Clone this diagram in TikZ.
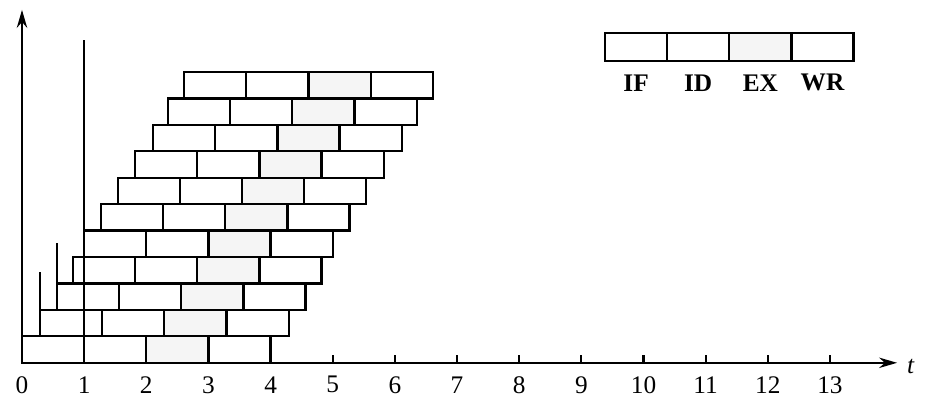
\documentclass[tikz,border=0pt]{standalone}
\usepackage{fontspec}
\setmainfont{Liberation Serif}
\usetikzlibrary{arrows.meta}

\begin{document}
\begin{tikzpicture}[x=1.554cm,y=0.661cm,line width=1.6pt,
  exfill/.style={fill=black!4},
  ticklab/.style={font=\fontsize{18}{20}\selectfont},
  leglab/.style={font=\fontsize{18}{20}\selectfont\bfseries}]
\useasboundingbox (-0.354,-2.155) rectangle (14.706,13.724);
% axes
\draw[-{Stealth[length=4.5mm,width=2.6mm]}] (0,0) -- (14.08,0);
\node[ticklab] (tlab) at (14.30,-0.15) {\textit{t}};
\draw[-{Stealth[length=4.5mm,width=2.6mm]}] (0,0) -- (0,13.35);
\foreach \n in {1,...,13}
  \draw (\n,0) -- (\n,0.3);
\foreach \n in {0,...,13}
  \node[ticklab] (tick\n) at (\n,-0.83) {\n};
\draw (1,0) -- (1,12.21);
\draw (0.29,1) -- (0.29,3.44);
\draw (0.563,2) -- (0.563,4.54);
% instructions
\foreach \s [count=\i from 0] in {0,0.29,0.563,0.82,1,1.27,1.54,1.82,2.11,2.35,2.61} {
  \fill[exfill] ({\s+2},\i) rectangle ++(1,1);
  \foreach \k in {0,...,3}
    \draw ({\s+\k},\i) rectangle ++(1,1);
}
% legend
\fill[exfill] (11.38,11.42) rectangle ++(1,1.06);
\foreach \n [count=\k from 0] in {IF,ID,EX,WR} {
  \draw ({9.38+\k},11.42) rectangle ++(1,1.06);
  \node[leglab] (leg\n) at ({9.88+\k},10.59) {\n};
}
\end{tikzpicture}
\end{document}
